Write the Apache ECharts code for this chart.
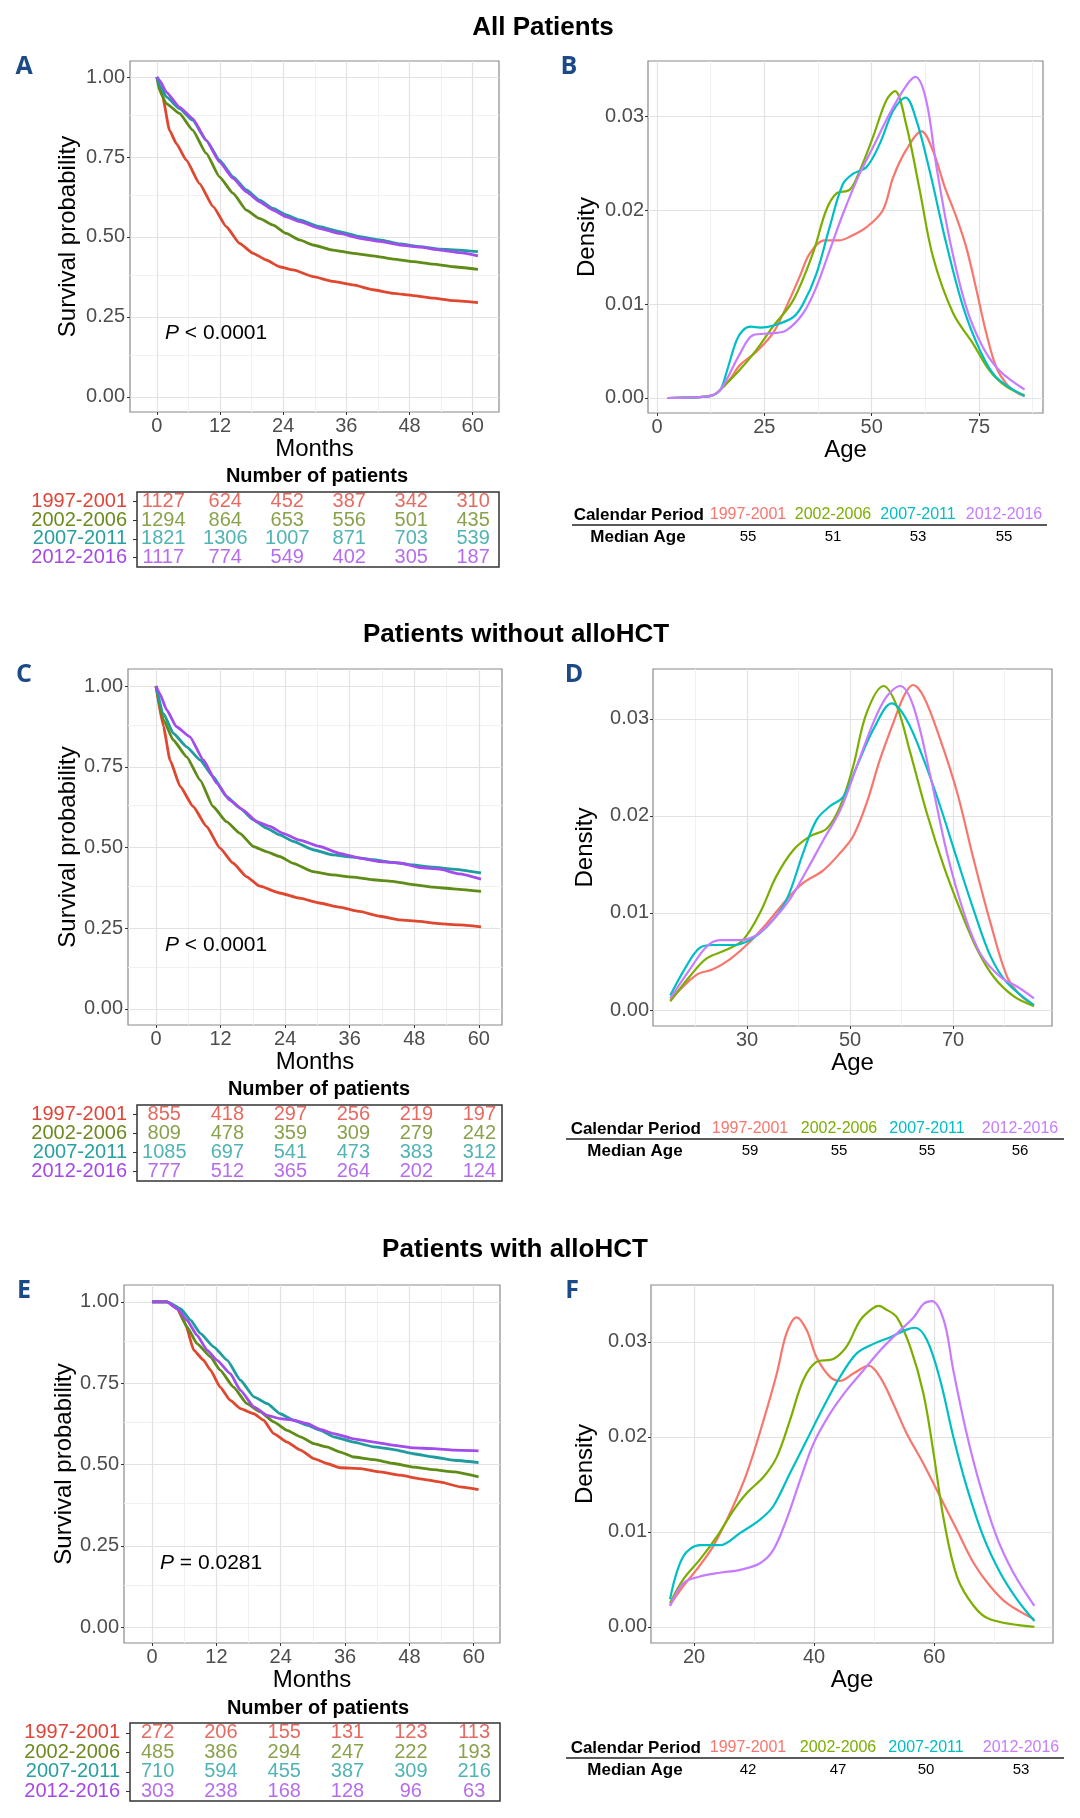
<!DOCTYPE html>
<html>
<head>
<meta charset="utf-8">
<title>Survival and age at diagnosis by calendar period</title>
<script src="https://cdn.jsdelivr.net/npm/echarts@6/dist/echarts.min.js"></script>
<style>
  html, body { margin: 0; padding: 0; background: #fff; }
  #main { width: 1080px; height: 1818px; }
</style>
</head>
<body>
<div id="main"></div>
<script>
var FONT = "'Liberation Sans', Arial, Helvetica, sans-serif";
var periods = ['1997-2001', '2002-2006', '2007-2011', '2012-2016'];
var kmColors = ['#E0472F', '#5E8C17', '#1F9C9D', '#A24CEE'];
var tableColors = ['#DF4539', '#6A8A1E', '#26A0A0', '#A449E8'];
var densColors = ['#F8766D', '#7CAE00', '#00BFC4', '#C77CFF'];

// tick labels
var monthTicks = [0, 12, 24, 36, 48, 60];
var monthMinor = [6, 18, 30, 42, 54];
var survTicks = [0, 0.25, 0.5, 0.75, 1];
var survMinor = [0.125, 0.375, 0.625, 0.875];
var densTicks = [0, 0.01, 0.02, 0.03];
var densMinor = [0.005, 0.015, 0.025, 0.035];
var ageTicksB = [0, 25, 50, 75];
var ageMinorB = [12.5, 37.5, 62.5, 87.5];
var ageTicksD = [30, 50, 70];
var ageMinorD = [20, 40, 60, 80];
var ageTicksF = [20, 40, 60];
var ageMinorF = [30, 50, 70];

// survival curves, [month, probability]
var survAll1997 = [[0,1],[1.1,0.938],[2.4,0.834],[3.7,0.792],[5.6,0.74],[8.1,0.667],[10.7,0.595],[13.2,0.532],[15.7,0.48],[18.3,0.449],[20.8,0.428],[23.3,0.407],[25.9,0.397],[29.7,0.376],[33.5,0.361],[37.3,0.35],[41.1,0.335],[44.9,0.324],[48.7,0.317],[52.5,0.309],[56.3,0.301],[61,0.295]];
var survAll2002 = [[0,1],[0.5,0.958],[1.8,0.917],[4.3,0.886],[6.8,0.834],[9.4,0.761],[11.9,0.688],[14.5,0.636],[17,0.584],[19.5,0.558],[22.1,0.537],[24.6,0.511],[27.1,0.491],[29.7,0.475],[33.5,0.459],[37.3,0.449],[41.1,0.441],[44.9,0.431],[48.7,0.423],[52.5,0.415],[56.3,0.407],[61,0.399]];
var survAll2007 = [[0,1],[0.5,0.974],[1.8,0.938],[4.3,0.901],[6.8,0.865],[9.4,0.802],[11.9,0.74],[14.5,0.688],[17,0.647],[19.5,0.615],[22.1,0.589],[24.6,0.569],[27.1,0.553],[30.9,0.532],[34.7,0.517],[38.6,0.501],[42.4,0.491],[46.2,0.478],[50,0.47],[53.8,0.462],[57.6,0.459],[61,0.454]];
var survAll2012 = [[0,1],[0.5,0.99],[1.8,0.953],[4.3,0.906],[6.8,0.87],[9.4,0.802],[11.9,0.735],[14.5,0.683],[17,0.641],[19.5,0.61],[22.1,0.584],[24.6,0.563],[27.1,0.548],[30.9,0.527],[34.7,0.511],[38.6,0.496],[42.4,0.486],[46.2,0.475],[50,0.468],[53.8,0.459],[57.6,0.451],[61,0.441]];

var survNo1997 = [[0,1],[1.4,0.874],[2.6,0.771],[4.5,0.689],[6.9,0.627],[9.4,0.565],[11.9,0.498],[14.3,0.452],[16.8,0.41],[19.3,0.38],[23,0.359],[26.7,0.343],[30.4,0.328],[34.1,0.315],[37.8,0.302],[41.6,0.287],[45.3,0.276],[49,0.271],[52.7,0.264],[56.4,0.26],[60.4,0.254]];
var survNo2002 = [[0,1],[1.4,0.895],[3.2,0.833],[5.7,0.781],[8.2,0.709],[10.6,0.627],[13.1,0.58],[15.6,0.544],[18.1,0.503],[20.5,0.487],[23,0.472],[25.5,0.451],[29.2,0.425],[32.9,0.415],[36.6,0.408],[40.3,0.4],[44,0.395],[47.7,0.385],[51.5,0.377],[55.2,0.372],[60.4,0.364]];
var survNo2007 = [[0,1],[1.4,0.915],[3.2,0.854],[5.7,0.812],[8.2,0.771],[10.6,0.72],[13.1,0.658],[15.6,0.622],[18.1,0.586],[20.5,0.56],[23,0.539],[25.5,0.519],[29.2,0.493],[32.9,0.477],[36.6,0.47],[40.3,0.462],[44,0.454],[47.7,0.446],[51.5,0.439],[55.2,0.433],[60.4,0.421]];
var survNo2012 = [[0,1],[0.7,0.977],[2,0.926],[3.8,0.874],[6.3,0.843],[8.8,0.771],[11.3,0.699],[13.7,0.647],[16.2,0.616],[18.7,0.58],[21.2,0.565],[23.6,0.544],[26.7,0.523],[30.4,0.503],[34.1,0.482],[37.8,0.467],[41.6,0.456],[45.3,0.452],[49,0.438],[52.7,0.433],[56.4,0.418],[60.4,0.402]];

var survHct1997 = [[0,1],[2.8,1],[4.7,0.979],[6.2,0.933],[7.8,0.851],[9.6,0.821],[10.9,0.79],[12.7,0.738],[14.6,0.697],[16.5,0.672],[19,0.656],[20.8,0.636],[22.7,0.595],[25.2,0.569],[27.7,0.544],[30.2,0.518],[32.6,0.503],[35.1,0.49],[38.9,0.487],[42.6,0.477],[46.3,0.467],[50.1,0.456],[53.8,0.446],[57.5,0.431],[60.9,0.423]];
var survHct2002 = [[0,1],[2.8,1],[4.7,0.985],[6.5,0.923],[8.4,0.872],[10.9,0.831],[12.7,0.79],[15.2,0.738],[17.7,0.687],[20.2,0.662],[22.7,0.631],[25.2,0.605],[27.7,0.585],[30.2,0.564],[32.6,0.554],[35.1,0.538],[37.6,0.523],[41.4,0.515],[45.1,0.503],[48.8,0.492],[52.5,0.484],[56.3,0.477],[60.9,0.462]];
var survHct2007 = [[0,1],[2.8,1],[5.3,0.979],[7.2,0.944],[9,0.903],[11.5,0.862],[14,0.821],[16.5,0.759],[19,0.708],[21.5,0.687],[23.9,0.656],[26.4,0.636],[28.9,0.621],[31.4,0.605],[33.9,0.585],[37.6,0.569],[41.4,0.554],[45.1,0.546],[48.8,0.533],[52.5,0.523],[56.3,0.513],[60.9,0.506]];
var survHct2012 = [[0,1],[2.8,1],[4.7,0.979],[6.5,0.944],[8.4,0.897],[10.3,0.851],[12.1,0.821],[14.6,0.779],[16.5,0.728],[19,0.677],[21.5,0.651],[23.9,0.641],[26.4,0.636],[28.9,0.626],[31.4,0.608],[33.9,0.595],[37.6,0.579],[41.4,0.569],[45.1,0.559],[48.8,0.551],[52.5,0.549],[56.3,0.544],[60.9,0.542]];

// age densities, [age, density]
var densAll1997 = [[2.5,0],[10,0.0001],[13,0.0003],[14.6,0.0008],[17,0.002],[19.3,0.0035],[23.1,0.0049],[27,0.0069],[30.1,0.0097],[33.2,0.0129],[35.6,0.0154],[39,0.0168],[42.5,0.0168],[45,0.0172],[48.8,0.0182],[52.6,0.02],[55,0.0235],[58,0.0264],[61.6,0.0284],[64.3,0.0263],[67,0.0225],[69.7,0.0193],[72,0.0161],[74.4,0.0115],[76.7,0.0069],[79,0.0033],[81.4,0.0015],[83.7,0.0006],[85.6,0.0002]];
var densAll2002 = [[2.5,0],[10,0.0001],[13,0.0003],[15,0.001],[19.3,0.003],[23.1,0.0051],[27,0.0076],[31.7,0.0104],[36.3,0.0154],[39.4,0.02],[41.8,0.0218],[44.9,0.0222],[47.2,0.0242],[50.3,0.0278],[53.4,0.0317],[55.4,0.0327],[58,0.0292],[61.2,0.0221],[64.3,0.015],[69,0.009],[73.6,0.0058],[77.5,0.0029],[81.4,0.0012],[85.6,0.0003]];
var densAll2007 = [[2.5,0],[10,0.0001],[13,0.0003],[14.8,0.0009],[16.1,0.0026],[18.5,0.0061],[20,0.0072],[21.8,0.0076],[24,0.0075],[27,0.0077],[31.7,0.0086],[34,0.01],[37.1,0.0132],[40.2,0.0182],[43.3,0.0228],[45.7,0.0239],[48.8,0.0246],[51.9,0.0271],[55,0.0306],[57.9,0.032],[60.4,0.0296],[63.5,0.0242],[67.4,0.0164],[71.3,0.0097],[75.2,0.0051],[79,0.0022],[85.6,0.0002]];
var densAll2012 = [[2.5,0],[10,0.0001],[13,0.0003],[15,0.001],[19.3,0.0047],[22.4,0.0067],[27,0.0069],[30.1,0.0072],[34,0.009],[37.1,0.0118],[40.2,0.0157],[43.3,0.0196],[47.2,0.0239],[50.3,0.0267],[54.2,0.0303],[58.1,0.0333],[60.2,0.0342],[62.7,0.0317],[65.1,0.0246],[68.2,0.0168],[72,0.0097],[75.9,0.0054],[79.8,0.0029],[85.6,0.0009]];

var densNo1997 = [[15.1,0.001],[20.1,0.0036],[23.4,0.0042],[26.6,0.0052],[29.9,0.0067],[33.8,0.0089],[37.7,0.0114],[40.9,0.0131],[44.8,0.0144],[48.1,0.0162],[50.6,0.0179],[53.2,0.0213],[55.8,0.0258],[58.4,0.0296],[60.4,0.0323],[62.2,0.0335],[64.3,0.0323],[67.5,0.0279],[70.8,0.0224],[74,0.0155],[77.3,0.0089],[80.5,0.0034],[83.1,0.0015],[85.7,0.0005]];
var densNo2002 = [[15.1,0.0009],[18.8,0.0034],[22.1,0.0053],[26,0.0062],[29.2,0.0072],[32.5,0.01],[35.7,0.0138],[39,0.0165],[42.2,0.0179],[45.5,0.0187],[48.1,0.021],[50.6,0.0251],[53.2,0.0306],[56.5,0.0334],[59.1,0.0313],[61.7,0.0265],[64.9,0.0203],[68.2,0.0148],[71.4,0.0103],[74.7,0.0062],[77.9,0.0034],[81.8,0.0014],[85.7,0.0004]];
var densNo2007 = [[15.1,0.0015],[18.2,0.0045],[20.8,0.0064],[23.4,0.0067],[27.3,0.0067],[30.5,0.0072],[34.4,0.0089],[37.7,0.0114],[40.9,0.0162],[43.5,0.0196],[46.1,0.021],[48.7,0.022],[51.3,0.0251],[54.5,0.0289],[58.1,0.0316],[61,0.0299],[64.3,0.0258],[67.5,0.021],[70.8,0.0155],[74,0.0103],[77.3,0.0055],[80.5,0.0028],[85.7,0.0005]];
var densNo2012 = [[15.1,0.0012],[18.8,0.0041],[22.1,0.0065],[24.7,0.0072],[28.6,0.0072],[31.8,0.0077],[35.1,0.0093],[38.3,0.0114],[41.6,0.0144],[44.8,0.0175],[48.1,0.0206],[51.3,0.0251],[54.5,0.0296],[57.1,0.0323],[59.7,0.0334],[62.3,0.0313],[65.6,0.0241],[68.8,0.0162],[72.1,0.01],[75.3,0.0058],[79.2,0.0034],[82.5,0.0024],[85.7,0.0012]];

var densHct1997 = [[16,0.0023],[18.2,0.0043],[20.4,0.006],[23.2,0.0085],[26,0.012],[28.8,0.0162],[31.6,0.0218],[33.8,0.0267],[35.4,0.0309],[37.1,0.0326],[38.8,0.0312],[40.4,0.0284],[42.7,0.0263],[44.3,0.0259],[46.6,0.0267],[49.1,0.0275],[51,0.0263],[53.2,0.0235],[55.4,0.0204],[58.2,0.0172],[61,0.0137],[63.8,0.0102],[66.6,0.0067],[69.3,0.0043],[72.1,0.0025],[76.7,0.0008]];
var densHct2002 = [[16,0.0025],[18.2,0.005],[21,0.0071],[23.8,0.0095],[26.6,0.0123],[28.8,0.0141],[31.6,0.0158],[33.8,0.0179],[36,0.0218],[38.2,0.026],[40.4,0.0279],[43.2,0.0282],[45.4,0.0295],[47.7,0.0323],[49.9,0.0336],[50.8,0.0338],[51.8,0.0335],[53.8,0.0326],[56,0.0295],[58.2,0.0246],[59.9,0.0183],[61.6,0.0113],[63.8,0.0053],[66.6,0.0022],[69.3,0.0008],[76.7,0]];
var densHct2007 = [[16,0.0029],[18.2,0.0074],[21,0.0086],[24.3,0.0086],[27.7,0.0099],[31,0.0113],[33.2,0.0127],[36,0.0162],[38.8,0.0197],[41.6,0.0232],[44.3,0.0263],[47.1,0.0288],[49.9,0.0298],[52.7,0.0305],[55.4,0.0313],[56.8,0.0315],[58.8,0.0302],[61,0.026],[63.2,0.02],[65.4,0.0148],[68.2,0.0095],[71,0.0057],[73.8,0.0029],[76.7,0.0006]];
var densHct2012 = [[16,0.0022],[18.2,0.0046],[21,0.0053],[24.3,0.0057],[27.7,0.006],[31,0.0067],[33.2,0.0081],[35.4,0.0113],[37.7,0.0155],[39.9,0.0193],[42.7,0.0225],[45.4,0.0249],[48.2,0.027],[51,0.0291],[53.8,0.0309],[56.6,0.0326],[58.2,0.034],[59.6,0.0343],[61.6,0.0323],[63.2,0.027],[65.4,0.0204],[67.7,0.0148],[70.4,0.0095],[73.2,0.0057],[76.7,0.0022]];

// number at risk at monthTicks, one row per period
var riskAll = [[1127, 624, 452, 387, 342, 310], [1294, 864, 653, 556, 501, 435], [1821, 1306, 1007, 871, 703, 539], [1117, 774, 549, 402, 305, 187]];
var riskNo = [[855, 418, 297, 256, 219, 197], [809, 478, 359, 309, 279, 242], [1085, 697, 541, 473, 383, 312], [777, 512, 365, 264, 202, 124]];
var riskHct = [[272, 206, 155, 131, 123, 113], [485, 386, 294, 247, 222, 193], [710, 594, 455, 387, 309, 216], [303, 238, 168, 128, 96, 63]];

var medianAll = [55, 51, 53, 55];
var medianNo = [59, 55, 55, 56];
var medianHct = [42, 47, 50, 53];

var sectionTitles = ['All Patients', 'Patients without alloHCT', 'Patients with alloHCT'];
var pTexts = ['< 0.0001', '< 0.0001', '= 0.0281'];

// layout only: boxes are [left, top, width, height] in px
var kmPanels = [
  { letter: 'A', box: [130, 61, 369, 351], xr: [-5.1, 65], yr: [-0.047, 1.05], curves: [survAll1997, survAll2002, survAll2007, survAll2012],
    risk: riskAll, tbox: [137, 492, 362, 75], yGap: 50, p: pTexts[0], pPos: [165, 333], nop: [317, 476] },
  { letter: 'C', box: [128, 669, 374, 356], xr: [-5.2, 64.3], yr: [-0.05, 1.053], curves: [survNo1997, survNo2002, survNo2007, survNo2012],
    risk: riskNo, tbox: [137, 1105, 365, 76], yGap: 48, p: pTexts[1], pPos: [165, 945], nop: [319, 1089] },
  { letter: 'E', box: [124, 1285, 376, 358], xr: [-5.23, 64.9], yr: [-0.049, 1.052], curves: [survHct1997, survHct2002, survHct2007, survHct2012],
    risk: riskHct, tbox: [130, 1723, 370, 78], yGap: 47, p: pTexts[2], pPos: [160, 1563], nop: [318, 1708] }
];
var densPanels = [
  { letter: 'B', box: [648, 61, 395, 352], xr: [-2.1, 89.9], yr: [-0.0016, 0.0359], curves: [densAll1997, densAll2002, densAll2007, densAll2012],
    xt: ageTicksB, xm: ageMinorB, yGap: 49, medians: medianAll,
    tab: { y: 515, cols: [748, 833, 918, 1004], calRight: 704, medCenter: 638, line: [572, 1047] } },
  { letter: 'D', box: [653, 669, 399, 357], xr: [11.75, 89.2], yr: [-0.00165, 0.03515], curves: [densNo1997, densNo2002, densNo2007, densNo2012],
    xt: ageTicksD, xm: ageMinorD, yGap: 56, medians: medianNo,
    tab: { y: 1129, cols: [750, 839, 927, 1020], calRight: 701, medCenter: 635, line: [566, 1064] } },
  { letter: 'F', box: [651, 1285, 402, 358], xr: [12.83, 79.8], yr: [-0.0017, 0.036], curves: [densHct1997, densHct2002, densHct2007, densHct2012],
    xt: ageTicksF, xm: ageMinorF, yGap: 54, medians: medianHct,
    tab: { y: 1748, cols: [748, 838, 926, 1021], calRight: 701, medCenter: 635, line: [566, 1064] } }
];
var titleY = [28, 635, 1250];
var titleX = [543, 516, 515];

var grids = [], xAxes = [], yAxes = [], series = [], graphics = [];

function fixed(d) { return function (v) { return Number(v).toFixed(d); }; }

function addGrid(box, border) {
  grids.push({
    left: box[0], top: box[1], width: box[2], height: box[3],
    show: true, borderColor: border.color, borderWidth: border.width, backgroundColor: '#fff',
    containLabel: false, outerBoundsMode: 'none'
  });
  return grids.length - 1;
}

function plotAxis(gi, range, ticks, fmt, name, gap, labelMargin) {
  return {
    type: 'value', gridIndex: gi, min: range[0], max: range[1],
    splitLine: { show: false },
    axisLine: { show: false, onZero: false },
    axisTick: { show: true, length: 3, customValues: ticks, lineStyle: { color: '#333', width: 1 } },
    axisLabel: { customValues: ticks, formatter: fmt, color: '#4d4d4d', fontSize: 20, fontFamily: FONT, margin: labelMargin },
    name: name, nameLocation: 'middle', nameGap: gap,
    nameTextStyle: { color: '#000', fontSize: 24, fontFamily: FONT }
  };
}

function gridMarks(xMaj, xMin, yMaj, yMin) {
  var minor = { color: '#f1f1f1', width: 1, type: 'solid' };
  var major = { color: '#e2e2e2', width: 1.2, type: 'solid' };
  var data = [];
  xMin.forEach(function (v) { data.push({ xAxis: v, lineStyle: minor }); });
  yMin.forEach(function (v) { data.push({ yAxis: v, lineStyle: minor }); });
  xMaj.forEach(function (v) { data.push({ xAxis: v, lineStyle: major }); });
  yMaj.forEach(function (v) { data.push({ yAxis: v, lineStyle: major }); });
  return { silent: true, z: 1, symbol: ['none', 'none'], label: { show: false }, emphasis: { disabled: true }, animation: false, data: data };
}

function text(x, y, str, font, fill, align, rich) {
  var style = { text: str, font: font, fill: fill, textAlign: align || 'center', textVerticalAlign: 'middle' };
  if (rich) style.rich = rich;
  graphics.push({ type: 'text', x: x, y: y, z: 100, silent: true, style: style });
}

var plotBorder = { color: '#8a8a8a', width: 1.2 };

// survival panels with risk tables
kmPanels.forEach(function (p) {
  var gi = addGrid(p.box, plotBorder);
  xAxes.push(plotAxis(gi, p.xr, monthTicks, fixed(0), 'Months', 23, 4));
  yAxes.push(plotAxis(gi, p.yr, survTicks, fixed(2), 'Survival probability', p.yGap, 5));
  var xi = xAxes.length - 1, yi = yAxes.length - 1;
  p.curves.forEach(function (c, k) {
    var s = {
      type: 'line', xAxisIndex: xi, yAxisIndex: yi, data: c, z: 3,
      symbol: 'none', smooth: 0.15, smoothMonotone: 'x',
      lineStyle: { color: kmColors[k], width: 2.8 }, silent: true, animation: false
    };
    if (k === 0) s.markLine = gridMarks(monthTicks, monthMinor, survTicks, survMinor);
    series.push(s);
  });

  // number-at-risk table, same month range as the plot above it
  var ti = addGrid(p.tbox, { color: '#333', width: 1.5 });
  xAxes.push({ type: 'value', gridIndex: ti, min: p.xr[0], max: p.xr[1], show: false });
  yAxes.push({
    type: 'category', gridIndex: ti, data: periods, inverse: true,
    axisLine: { show: false, onZero: false },
    axisTick: { show: true, length: 4, interval: 0, alignWithLabel: true, lineStyle: { color: '#333' } },
    splitLine: { show: false },
    axisLabel: { interval: 0, fontSize: 20, fontFamily: FONT, margin: 10, color: function (v, i) { return tableColors[i]; } }
  });
  var txi = xAxes.length - 1, tyi = yAxes.length - 1;
  p.risk.forEach(function (row, k) {
    series.push({
      type: 'scatter', xAxisIndex: txi, yAxisIndex: tyi, silent: true, animation: false,
      symbolSize: 1, itemStyle: { color: 'rgba(0,0,0,0)' },
      data: row.map(function (n, j) { return [monthTicks[j], k, n]; }),
      label: { show: true, position: 'inside', formatter: function (q) { return q.value[2]; },
               color: tableColors[k], fontSize: 20, fontFamily: FONT }
    });
  });

  text(p.nop[0], p.nop[1], 'Number of patients', 'bold 20px ' + FONT, '#000');
  text(p.pPos[0], p.pPos[1], '{i|P} ' + p.p, '21px ' + FONT, '#000', 'left',
       { i: { fontStyle: 'italic', fontSize: 21, fontFamily: FONT, fill: '#000' } });
  text(24, p.box[1] + 6, p.letter, "bold 25px 'Open Sans', " + FONT, '#1B4A86');
});

// age density panels with median tables
densPanels.forEach(function (p) {
  var gi = addGrid(p.box, plotBorder);
  xAxes.push(plotAxis(gi, p.xr, p.xt, fixed(0), 'Age', 22, 4));
  yAxes.push(plotAxis(gi, p.yr, densTicks, fixed(2), 'Density', p.yGap, 4));
  var xi = xAxes.length - 1, yi = yAxes.length - 1;
  p.curves.forEach(function (c, k) {
    var s = {
      type: 'line', xAxisIndex: xi, yAxisIndex: yi, data: c, z: 3,
      symbol: 'none', smooth: 0.35,
      lineStyle: { color: densColors[k], width: 2.2 }, silent: true, animation: false
    };
    if (k === 0) s.markLine = gridMarks(p.xt, p.xm, densTicks, densMinor);
    series.push(s);
  });

  var t = p.tab;
  text(t.calRight, t.y, 'Calendar Period', 'bold 17px ' + FONT, '#000', 'right');
  periods.forEach(function (name, k) {
    text(t.cols[k], t.y, name, '16px ' + FONT, densColors[k]);
    text(t.cols[k], t.y + 22, String(p.medians[k]), '15px ' + FONT, '#000');
  });
  graphics.push({ type: 'line', z: 100, silent: true, shape: { x1: t.line[0], y1: t.y + 10, x2: t.line[1], y2: t.y + 10 },
                  style: { stroke: '#222', lineWidth: 1.5 } });
  text(t.medCenter, t.y + 22, 'Median Age', 'bold 17px ' + FONT, '#000');
  text(p.box[0] - 79, p.box[1] + 6, p.letter, "bold 25px 'Open Sans', " + FONT, '#1B4A86');
});

sectionTitles.forEach(function (s, i) {
  text(titleX[i], titleY[i], s, 'bold 26px ' + FONT, '#000');
});

var chart = echarts.init(document.getElementById('main'), null, { renderer: 'canvas' });
chart.setOption({
  animation: false,
  backgroundColor: '#fff',
  grid: grids,
  xAxis: xAxes,
  yAxis: yAxes,
  series: series,
  graphic: graphics
});
</script>
</body>
</html>
